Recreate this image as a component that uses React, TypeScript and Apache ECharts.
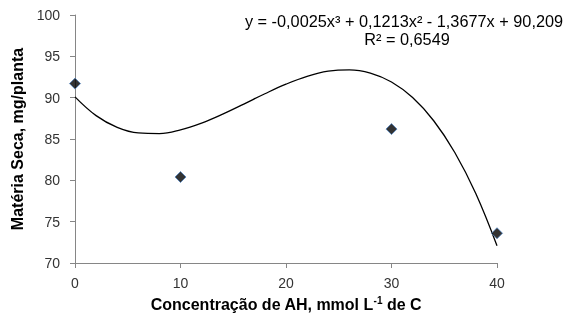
import React, { useEffect, useRef } from "react";
import * as echarts from "echarts";

const concentrations = [0, 10, 30, 40];
const dryMatter = [91.7, 80.4, 86.2, 73.6];

// polynomial trend line, values every 2 units
const trendX = [0, 2, 4, 6, 8, 10, 12, 14, 16, 18, 20, 22, 24, 26, 28, 30, 32, 34, 36, 38, 40];
const trendY = [90.1, 87.83, 86.41, 85.73, 85.66, 86.1, 86.92, 88.0, 89.22, 90.47, 91.63, 92.58, 93.2, 93.37, 92.97, 91.89, 90.01, 87.21, 83.37, 78.37, 72.08];

const xTicks = [0, 10, 20, 30, 40];
const yTicks = [70, 75, 80, 85, 90, 95, 100];

const equationLine = "y = -0,0025x³ + 0,1213x² - 1,3677x + 90,209";
const r2Line = "R² = 0,6549";
const xTitle = "Concentração de AH, mmol L";
const xTitleSup = "-1";
const xTitleEnd = " de C";
const yTitle = "Matéria Seca, mg/planta";

const FONT = "'Liberation Sans', Arial, sans-serif";

export default function App() {
  const ref = useRef<HTMLDivElement>(null);
  useEffect(() => {
    if (!ref.current) return;
    const chart = echarts.init(ref.current, null, { renderer: "svg" });
    chart.setOption({
      animation: false,
      textStyle: { fontFamily: FONT },
      grid: { left: 75, right: 73, top: 15, bottom: 57 },
      xAxis: {
        type: "value",
        min: xTicks[0],
        max: xTicks[xTicks.length - 1],
        interval: 10,
        splitLine: { show: false },
        axisLine: { lineStyle: { color: "#868686", width: 1 } },
        axisTick: { show: true, length: 5, lineStyle: { color: "#868686" } },
        axisLabel: { color: "#333", fontSize: 14, margin: 13, fontFamily: FONT },
        name: "{t|" + xTitle + "}{s|" + xTitleSup + "}{t|" + xTitleEnd + "}",
        nameLocation: "middle",
        nameGap: 32,
        nameTextStyle: {
          rich: {
            t: { fontSize: 16, fontWeight: "bold", color: "#000", fontFamily: FONT, lineHeight: 18 },
            s: { fontSize: 10, fontWeight: "bold", color: "#000", fontFamily: FONT, verticalAlign: "top", lineHeight: 18, padding: [0, 0, 8, 0] },
          },
        },
      },
      yAxis: {
        type: "value",
        min: yTicks[0],
        max: yTicks[yTicks.length - 1],
        interval: 5,
        splitLine: { show: false },
        axisLine: { show: true, lineStyle: { color: "#868686", width: 1 } },
        axisTick: { show: true, length: 5, lineStyle: { color: "#868686" } },
        axisLabel: { color: "#333", fontSize: 14, margin: 15, fontFamily: FONT },
        name: yTitle,
        nameLocation: "middle",
        nameGap: 49,
        nameTextStyle: { fontSize: 16, fontWeight: "bold", color: "#000", fontFamily: FONT },
      },
      series: [
        {
          type: "line",
          data: trendX.map((x, i) => [x, trendY[i]]),
          smooth: 0.4,
          showSymbol: false,
          symbol: "none",
          lineStyle: { color: "#000", width: 1.3 },
          z: 2,
        },
        {
          type: "scatter",
          data: concentrations.map((x, i) => [x, dryMatter[i]]),
          symbol: "diamond",
          symbolSize: 11,
          itemStyle: { color: "#000", borderColor: "#4f81bd", borderWidth: 1 },
          z: 3,
        },
      ],
      graphic: [
        {
          type: "text",
          x: 404,
          y: 21,
          style: { text: equationLine, font: "16.3px " + FONT, fill: "#000", textAlign: "center", textVerticalAlign: "middle" },
        },
        {
          type: "text",
          x: 407,
          y: 39,
          style: { text: r2Line, font: "16.3px " + FONT, fill: "#000", textAlign: "center", textVerticalAlign: "middle" },
        },
      ],
    });
    return () => chart.dispose();
  }, []);
  return <div ref={ref} style={{ position: "fixed", left: 0, top: 0, width: 570, height: 320 }} />;
}
